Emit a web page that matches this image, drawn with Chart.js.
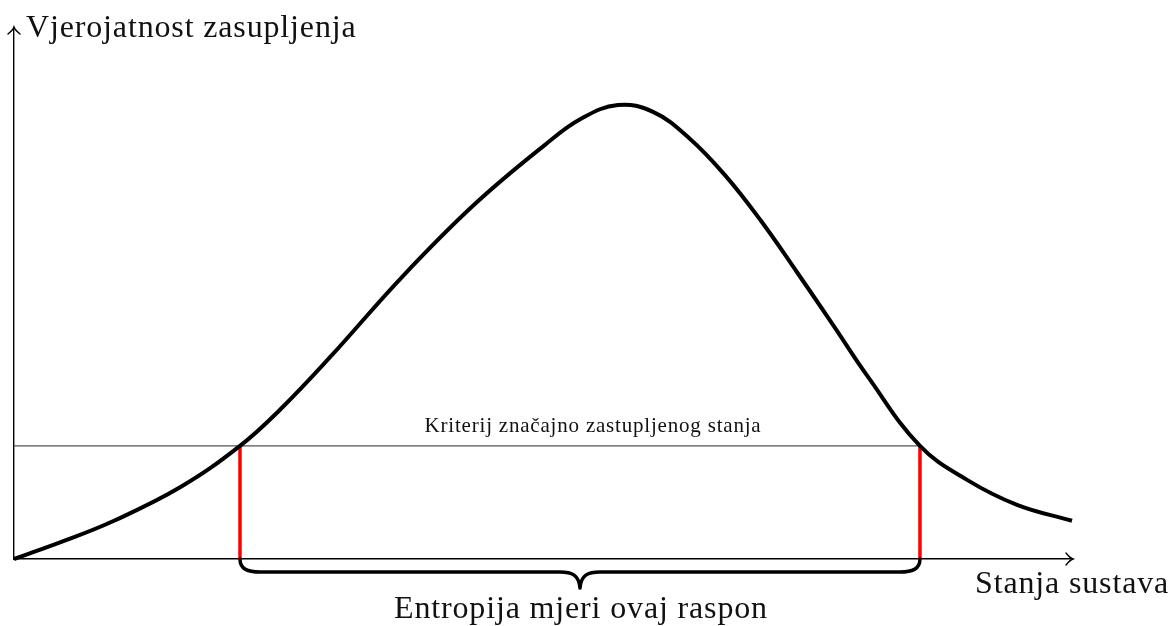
<!DOCTYPE html>
<html>
<head>
<meta charset="utf-8">
<script src="https://cdn.jsdelivr.net/npm/chart.js@4"></script>
<style>
  html, body { margin: 0; padding: 0; background: #fff; }
  #wrap { width: 1172px; height: 626px; }
</style>
</head>
<body>
<div id="wrap"><canvas id="chart" width="1172" height="626"></canvas></div>
<script>
// states of the system (x) and probability of occupation (y)
var stateX = [0, 0.473, 0.945, 1.578, 2.136, 2.514, 2.987, 3.667, 4.348, 5.019, 5.359, 5.709,
              6.040, 6.380, 6.720, 7.060, 7.401, 7.741, 8.072, 8.563, 9.008, 9.480, 10.0];
var probY  = [0, 0.034, 0.072, 0.136, 0.213, 0.281, 0.380, 0.531, 0.667, 0.780, 0.829, 0.855,
              0.842, 0.793, 0.723, 0.637, 0.540, 0.441, 0.343, 0.213, 0.149, 0.102, 0.072];

var threshold = 0.213;           // criterion of significantly occupied state
var rangeEdges = [2.136, 8.563]; // where the curve crosses the criterion

var yTitle = 'Vjerojatnost zasupljenja';
var xTitle = 'Stanja sustava';
var thresholdLabel = 'Kriterij značajno zastupljenog stanja';
var braceLabel = 'Entropija mjeri ovaj raspon';

var curve = stateX.map(function (x, i) { return { x: x, y: probY[i] }; });

var serif = '"Liberation Serif", "DejaVu Serif", serif';

// arrows, brace and labels
var extras = {
    id: 'extras',
    afterDatasetsDraw: function (chart) {
        var c = chart.ctx, xs = chart.scales.x, ys = chart.scales.y;
        var a = chart.chartArea;
        c.save();
        c.strokeStyle = '#000';
        c.lineWidth = 1.4;
        c.lineCap = 'round';
        // arrow heads
        c.beginPath();
        c.moveTo(a.right - 6, a.bottom - 6);
        c.quadraticCurveTo(a.right - 2, a.bottom - 1, a.right + 1, a.bottom);
        c.quadraticCurveTo(a.right - 2, a.bottom + 1, a.right - 6, a.bottom + 6);
        c.moveTo(a.left - 6, a.top + 6);
        c.quadraticCurveTo(a.left - 1, a.top + 2, a.left, a.top - 1);
        c.quadraticCurveTo(a.left + 1, a.top + 2, a.left + 6, a.top + 6);
        c.stroke();

        // brace under the range
        var x1 = xs.getPixelForValue(rangeEdges[0]);
        var x2 = xs.getPixelForValue(rangeEdges[1]);
        var y0 = ys.getPixelForValue(0);
        var mid = (x1 + x2) / 2;
        var r = 20, depth = 13, tip = 29;
        c.lineWidth = 3.5;
        c.lineJoin = 'round';
        c.beginPath();
        c.moveTo(x1, y0);
        c.bezierCurveTo(x1, y0 + depth * 0.8, x1 + r * 0.4, y0 + depth, x1 + r, y0 + depth);
        c.lineTo(mid - r, y0 + depth);
        c.bezierCurveTo(mid - r * 0.4, y0 + depth, mid - 1, y0 + depth + 3, mid, y0 + tip);
        c.bezierCurveTo(mid + 1, y0 + depth + 3, mid + r * 0.4, y0 + depth, mid + r, y0 + depth);
        c.lineTo(x2 - r, y0 + depth);
        c.bezierCurveTo(x2 - r * 0.4, y0 + depth, x2, y0 + depth * 0.8, x2, y0);
        c.stroke();

        // labels
        c.fillStyle = '#111';
        c.textBaseline = 'alphabetic';
        c.font = '32px ' + serif;
        c.letterSpacing = '0.85px';
        c.textAlign = 'left';
        c.fillText(yTitle, 26, 37);
        c.fillText(xTitle, 975, 593);
        c.textAlign = 'center';
        c.fillText(braceLabel, mid + 1, 618);
        c.font = '21px ' + serif;
        c.letterSpacing = '0.8px';
        c.fillText(thresholdLabel, 593, 432);
        c.restore();
    }
};

var ctx = document.getElementById('chart').getContext('2d');
var myChart = new Chart(ctx, {
    type: 'scatter',
    data: {
        datasets: [{
            // criterion line
            data: [{ x: 0, y: threshold }, { x: rangeEdges[1], y: threshold }],
            showLine: true,
            borderColor: '#555',
            borderWidth: 1.4,
            pointRadius: 0,
            clip: false,
            order: 3
        }, {
            data: [{ x: rangeEdges[0], y: 0 }, { x: rangeEdges[0], y: threshold }],
            showLine: true,
            borderColor: '#ff0000',
            borderWidth: 3.5,
            pointRadius: 0,
            clip: false,
            order: 2
        }, {
            data: [{ x: rangeEdges[1], y: 0 }, { x: rangeEdges[1], y: threshold }],
            showLine: true,
            borderColor: '#ff0000',
            borderWidth: 3.5,
            pointRadius: 0,
            clip: false,
            order: 2
        }, {
            data: curve,
            showLine: true,
            borderColor: '#000',
            borderWidth: 4,
            pointRadius: 0,
            tension: 0.4,
            clip: false,
            order: 1
        }]
    },
    options: {
        responsive: false,
        animation: false,
        layout: { padding: { left: 6, right: 100, top: 28, bottom: 59 } },
        plugins: { legend: { display: false }, tooltip: { enabled: false } },
        scales: {
            x: {
                type: 'linear', min: 0, max: 10,
                grid: { display: false },
                border: { display: true, color: '#000', width: 1.4 },
                ticks: { display: false }
            },
            y: {
                type: 'linear', min: 0, max: 1,
                grid: { display: false },
                border: { display: true, color: '#000', width: 1.4 },
                ticks: { display: false }
            }
        }
    },
    plugins: [extras]
});
</script>
</body>
</html>
